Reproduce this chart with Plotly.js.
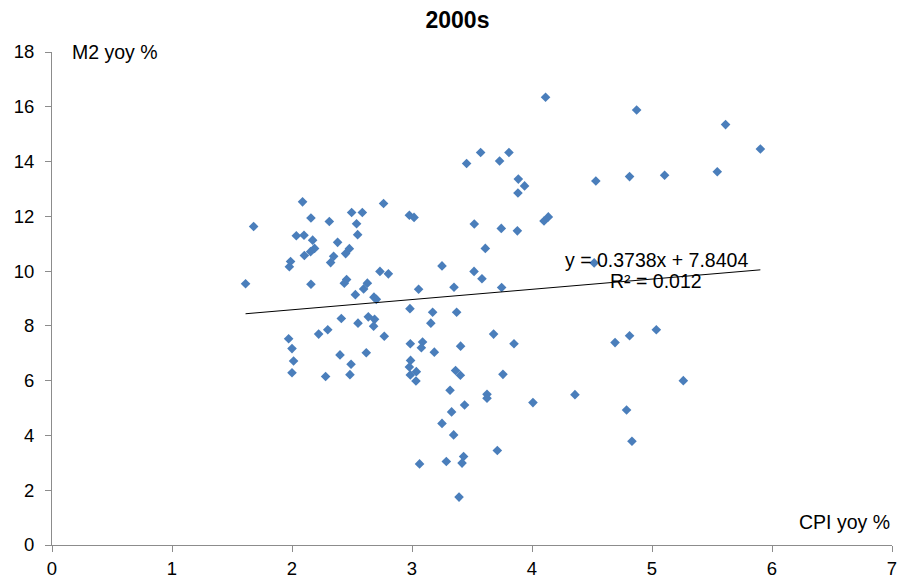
<!DOCTYPE html>
<html>
<head>
<meta charset="utf-8">
<script src="https://cdn.plot.ly/plotly-3.0.1.min.js"></script>
<style>html,body{margin:0;padding:0;background:#fff;}#chart{width:905px;height:581px;}</style>
</head>
<body>
<div id="chart"></div>
<script>
// CPI yoy % (x) and M2 yoy % (y), monthly 2000s
var cpiYoy = [
  1.680, 2.088, 2.158, 2.311, 2.497, 2.586, 2.763, 2.978, 3.017, 2.538,
  2.036, 2.100, 2.172, 2.547, 2.380, 2.188, 2.155, 2.103, 2.478, 2.447,
  2.347, 2.322, 1.988, 1.978, 1.613, 2.158, 2.733, 2.803, 2.455, 2.436,
  2.628, 2.597, 3.055, 2.528, 2.683, 2.703, 2.983, 2.411, 2.550, 2.636,
  2.688, 2.680, 2.298, 3.157,
  1.972, 2.000, 2.013, 2.000, 2.222, 2.400, 2.492, 2.280, 2.483, 2.619,
  3.172, 3.372, 2.769, 2.986, 3.088, 3.078, 3.186, 3.405, 3.680, 3.850,
  2.988, 2.978, 3.036, 2.986, 3.033, 3.363, 3.403, 3.758, 3.317, 3.625,
  3.625, 3.438, 4.008, 3.330, 3.250, 3.347, 3.711, 3.063, 3.286, 3.430,
  3.417, 3.392,
  4.113, 3.572, 3.455, 3.808, 3.730, 3.886, 3.938, 3.883, 4.532, 4.100,
  4.136, 3.519, 3.744, 3.878, 3.611, 3.250, 3.517, 3.583, 3.350, 3.747,
  4.518,
  4.872, 5.613, 5.903, 5.544, 5.105, 4.813, 5.036, 4.813, 4.692, 5.261,
  4.358, 4.788, 4.833
];
var m2Yoy = [
  11.63, 12.53, 11.94, 11.81, 12.14, 12.14, 12.47, 12.04, 11.96, 11.73,
  11.29, 11.31, 11.13, 11.33, 11.05, 10.83, 10.71, 10.57, 10.82, 10.64,
  10.54, 10.31, 10.35, 10.16, 9.54, 9.52, 9.99, 9.90, 9.69, 9.56,
  9.56, 9.35, 9.34, 9.14, 9.05, 8.97, 8.63, 8.27, 8.10, 8.33,
  8.24, 7.99, 7.86, 8.10,
  7.53, 7.17, 6.72, 6.29, 7.70, 6.94, 6.60, 6.15, 6.22, 7.02,
  8.50, 8.50, 7.62, 7.35, 7.41, 7.20, 7.04, 7.26, 7.70, 7.35,
  6.74, 6.50, 6.33, 6.21, 5.99, 6.37, 6.20, 6.23, 5.65, 5.50,
  5.36, 5.11, 5.20, 4.86, 4.44, 4.02, 3.45, 2.96, 3.05, 3.23,
  2.99, 1.75,
  16.35, 14.33, 13.93, 14.33, 14.02, 13.36, 13.11, 12.85, 13.29, 11.83,
  11.98, 11.72, 11.56, 11.47, 10.83, 10.19, 9.99, 9.72, 9.41, 9.40,
  10.30,
  15.88, 15.35, 14.46, 13.63, 13.50, 13.45, 7.86, 7.64, 7.39, 6.00,
  5.49, 4.93, 3.79
];
// Linear trendline (as labelled on the chart)
var trendSlope = 0.3738;
var trendIntercept = 7.8404;
var trendLabel = "y = 0.3738x + 7.8404";
var r2Label = "R² = 0.012";
var xTicks = [0, 1, 2, 3, 4, 5, 6, 7];
var yTicks = [0, 2, 4, 6, 8, 10, 12, 14, 16, 18];

var xMin = Math.min.apply(null, cpiYoy), xMax = Math.max.apply(null, cpiYoy);
var trendX = [xMin, xMax];
var trendY = trendX.map(function(v){ return trendSlope * v + trendIntercept; });

var font = "Liberation Sans, Arial, sans-serif";
var data = [
  {
    x: cpiYoy, y: m2Yoy, type: "scatter", mode: "markers",
    marker: {symbol: "diamond", size: 7.4, color: "#4a7ebb", line: {width: 0}},
    hoverinfo: "x+y", showlegend: false
  },
  {
    x: trendX, y: trendY, type: "scatter", mode: "lines",
    line: {color: "#000000", width: 1}, hoverinfo: "skip", showlegend: false
  }
];
var axisCommon = {
  showgrid: false, zeroline: false, showline: true, linecolor: "#8c8c8c", linewidth: 1,
  ticks: "outside", ticklen: 6, tickcolor: "#8c8c8c", tickwidth: 1,
  tickfont: {family: font, size: 18.5, color: "#000"}
};
var layout = {
  width: 905, height: 581,
  margin: {l: 52, r: 13, t: 52, b: 36},
  paper_bgcolor: "#fff", plot_bgcolor: "#fff",
  font: {family: font, color: "#000"},
  title: {text: "<b>2000s</b>", font: {family: font, size: 23, color: "#000"},
          x: 0.5055, xref: "container", xanchor: "center", y: 0.9656, yref: "container", yanchor: "middle"},
  xaxis: Object.assign({}, axisCommon, {range: [0, 7], tickvals: xTicks, ticktext: xTicks.map(String), ticklabelstandoff: 1}),
  yaxis: Object.assign({}, axisCommon, {range: [0, 18], tickvals: yTicks, ticktext: yTicks.map(String), ticklabelstandoff: 7}),
  annotations: [
    {text: "M2 yoy %", x: 0.15, y: 18, xref: "x", yref: "y", xanchor: "left", yanchor: "middle",
     showarrow: false, font: {family: font, size: 19.5, color: "#000"}},
    {text: "CPI yoy %", x: 7, y: 0.84, xref: "x", yref: "y", xanchor: "right", yanchor: "middle",
     showarrow: false, font: {family: font, size: 19.5, color: "#000"}},
    {text: trendLabel, x: 5.036, y: 10.42, xref: "x", yref: "y", xanchor: "center", yanchor: "middle",
     showarrow: false, font: {family: font, size: 19.5, color: "#000"}},
    {text: r2Label, x: 5.036, y: 9.63, xref: "x", yref: "y", xanchor: "center", yanchor: "middle",
     showarrow: false, font: {family: font, size: 19.5, color: "#000"}}
  ]
};
Plotly.newPlot("chart", data, layout, {displayModeBar: false, staticPlot: true});
</script>
</body>
</html>
